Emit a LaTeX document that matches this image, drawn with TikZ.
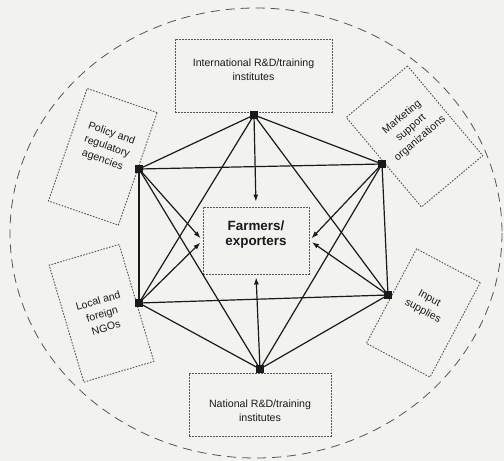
\documentclass[tikz,border=0pt]{standalone}
\usepackage{fontspec}
\setmainfont{Liberation Sans}
\usetikzlibrary{
  shapes,
  arrows.meta,
  calc,
}
\definecolor{cPaper}{HTML}{F2F2F0}
\definecolor{cInk}{HTML}{1A1A1A}
\definecolor{cDash}{HTML}{555555}

\begin{document}
\begin{tikzpicture}[x=1pt,y=-1pt,
    box/.style={draw=cDash,dash pattern=on 1.6pt off 1.4pt,line width=0.9pt,inner sep=0pt},
    lbl/.style={align=center,font=\fontsize{10.6}{14}\selectfont,text=cInk,inner sep=0pt},
    edge/.style={cInk,line width=1.2pt},
    toward/.style={cInk,line width=1.2pt,-{Latex[length=7pt,width=5pt]},shorten >=3pt},
  ]
  \fill[cPaper] (0,0) rectangle (504,461);
  \useasboundingbox (0,0) rectangle (504,461);

  % outer boundary
  \draw[cDash,line width=0.8pt,dash pattern=on 9pt off 6pt] (256,233) ellipse (246 and 225);

  % actors
  \node[box,minimum width=157,minimum height=73] (intl) at (253.5,75.5) {};
  \node[lbl] (intlT) at (253.5,70) {International R\&D/training\\institutes};

  \node[box,minimum width=142,minimum height=63] (natl) at (260,404.5) {};
  \node[lbl] (natlT) at (260,411) {National R\&D/training\\institutes};

  \node[box,rotate=-19,minimum width=74,minimum height=119] (policy) at (102.8,156.8) {};
  \node[lbl,rotate=-19] (policyT) at (107,147) {Policy and\\regulatory\\agencies};

  \node[box,rotate=40,minimum width=80,minimum height=117] (market) at (414.5,136.5) {};
  \node[lbl,rotate=40] (marketT) at (411,128) {Marketing\\support\\organizations};

  \node[box,rotate=16.5,minimum width=73,minimum height=122] (ngo) at (101.5,313.3) {};
  \node[lbl,rotate=16.5] (ngoT) at (102,314) {Local and\\foreign\\NGOs};

  \node[box,rotate=-28,minimum width=72,minimum height=107] (input) at (423.3,313) {};
  \node[lbl,rotate=-28] (inputT) at (426,305) {Input\\supplies};

  \node[box,minimum width=106,minimum height=67] (farm) at (256,240.5) {};
  \node[lbl,font=\fontsize{13.4}{15.5}\selectfont\bfseries] (farmT) at (256,234.5) {Farmers/\\exporters};

  % hub points
  \foreach \n/\x/\y in {t/254/115, ul/139/169, ur/382/164, ll/139/303, lr/388/295, b/260/369}{
      \coordinate (a\n) at (\x,\y);
    }

  \foreach \s/\e in {t/ul, t/ur, ul/ll, ur/lr, ll/b, lr/b, ul/ur, ll/lr, t/ll, t/lr, b/ul, b/ur}{
      \draw[edge] (a\s) -- (a\e);
    }

  \draw[toward,shorten >=5pt] (at) -- (farm.north);
  \draw[toward] (ab) -- (farm.south);
  \draw[toward] (aul) -- (farm.west);
  \draw[toward] (all) -- (farm.west);
  \draw[toward] (aur) -- (farm.east);
  \draw[toward] (alr) -- (farm.east);

  \foreach \n in {t,ul,ur,ll,lr,b}{
      \fill[cInk] (a\n) ++(-3.8,-3.8) rectangle ++(7.6,7.6);
    }
\end{tikzpicture}
\end{document}
